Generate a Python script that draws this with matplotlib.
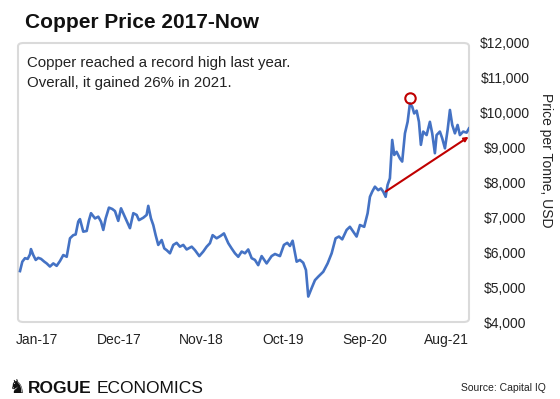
import matplotlib
matplotlib.use('Agg')
import matplotlib.pyplot as plt
from matplotlib.patches import FancyBboxPatch

# months since Jan-2017 and copper price in USD/tonne
months = [-2.28, -1.97, -1.61, -1.25, -0.94, -0.81, -0.50, -0.17, 0.17, 0.54,
          0.98, 1.30, 1.74, 2.19, 2.64, 3.09, 3.53, 3.99, 4.43, 4.87,
          5.19, 5.54, 5.77, 6.21, 6.67, 6.98, 7.25, 7.79, 8.23, 8.59,
          8.90, 9.22, 9.66, 10.11, 10.47, 10.91, 11.28, 11.72, 12.48, 12.93,
          13.38, 13.69, 14.27, 14.72, 14.94, 15.30, 15.61, 15.93, 16.28, 16.74,
          17.09, 17.41, 17.85, 18.30, 18.75, 19.19, 19.64, 20.09, 20.77, 21.21,
          21.79, 22.32, 22.78, 23.22, 23.58, 24.12, 24.66, 25.10, 25.68, 26.13,
          26.58, 27.02, 27.48, 27.92, 28.36, 28.82, 29.26, 29.70, 30.16, 30.83,
          31.50, 31.95, 32.62, 33.15, 33.60, 33.96, 34.32, 34.86, 35.30, 35.74,
          36.11, 36.42, 36.87, 37.32, 37.76, 38.43, 39.02, 39.56, 40.09, 40.54,
          40.98, 41.57, 42.01, 42.46, 42.91, 43.36, 43.93, 44.39, 44.70, 45.01,
          45.37, 45.81, 46.17, 46.48, 46.81, 47.07, 47.38, 47.69, 47.96, 48.28,
          48.72, 49.03, 49.40, 49.76, 50.07, 50.38, 50.64, 50.97, 51.28, 51.54,
          51.85, 52.31, 52.75, 53.06, 53.42, 53.65, 54.09, 54.40, 54.77, 55.13,
          55.44, 55.75, 56.11, 56.47, 56.78, 57.22, 57.68, 57.99]
prices = [5460, 5730, 5830, 5810, 5940, 6090, 5920, 5780, 5840, 5810,
          5730, 5680, 5590, 5680, 5610, 5750, 5920, 5870, 6400, 6490,
          6510, 6880, 6950, 6590, 6610, 6920, 7120, 6970, 7020, 6880,
          6640, 6970, 7280, 7240, 7180, 6900, 7260, 7050, 6690, 7120,
          7070, 6920, 6990, 7070, 7330, 6970, 6780, 6490, 6210, 6350,
          6110, 6060, 5970, 6210, 6270, 6160, 6210, 6080, 6160, 6060,
          5890, 6020, 6160, 6260, 6490, 6400, 6470, 6540, 6260, 6110,
          5970, 5870, 6020, 5970, 6080, 5830, 5780, 5630, 5890, 5680,
          5890, 5950, 5890, 6210, 6270, 6180, 6330, 5730, 5780, 5700,
          5490, 4730, 4970, 5200, 5300, 5440, 5680, 5970, 6400, 6450,
          6370, 6640, 6730, 6590, 6450, 6780, 6730, 7120, 7590, 7740,
          7880, 7780, 7830, 7740, 7590, 7930, 8120, 9220, 8790, 8880,
          8690, 8600, 9410, 9740, 10270, 10170, 9980, 10060, 9740, 9080,
          9460, 9360, 9740, 9410, 8840, 9360, 9460, 9270, 8980, 9510,
          10080, 9650, 9410, 9650, 9360, 9460, 9430, 9550]

tick_months = [0, 11, 22, 33, 44, 55]
tick_labels = ['Jan-17', 'Dec-17', 'Nov-18', 'Oct-19', 'Sep-20', 'Aug-21']
price_ticks = [4000, 5000, 6000, 7000, 8000, 9000, 10000, 11000, 12000]

trend_months = [46.81, 57.95]
trend_prices = [7740, 9310]
peak_month = [50.07]
peak_price = [10410]

BLUE = '#4472C4'
RED = '#C00000'
W, H = 560, 399

fig = plt.figure(figsize=(W / 100, H / 100), dpi=100)
ax = fig.add_axes([18 / W, 77 / H, 451 / W, 279 / H])

ax.plot(months, prices, color=BLUE, lw=1.9, solid_joinstyle='round', zorder=3)
ax.annotate('', xy=(trend_months[1], trend_prices[1]),
            xytext=(trend_months[0], trend_prices[0]),
            arrowprops=dict(arrowstyle='-|>', color=RED, lw=1.5,
                            mutation_scale=6, shrinkA=0, shrinkB=0),
            zorder=4)
ax.plot(peak_month, peak_price, marker='o', ms=7.5, mfc='none', mec=RED,
        mew=1.5, ls='none', zorder=5)

ax.set_xlim(-2.55, 58.0)
ax.set_ylim(4000, 12000)
ax.set_xticks(tick_months)
ax.set_xticklabels(tick_labels, fontsize=10, family='Liberation Sans', color='#222222')
ax.yaxis.tick_right()
ax.set_yticks(price_ticks)
ax.set_yticklabels(['${:,}'.format(v) for v in price_ticks], fontsize=10,
                   family='Liberation Sans', color='#222222', ha='center')
ax.tick_params(axis='x', length=0, pad=8)
ax.tick_params(axis='y', length=0, pad=26)
for s in ax.spines.values():
    s.set_visible(False)

box = FancyBboxPatch((0, 0), 1, 1, boxstyle='round,pad=0,rounding_size=0.012',
                     transform=ax.transAxes, facecolor='none',
                     edgecolor='#DADADA', lw=1.5, clip_on=False, zorder=1)
ax.add_patch(box)

fig.text(546 / W, 1 - 160 / H, 'Price per Tonne, USD', rotation=270,
         ha='center', va='center', fontsize=10, family='Liberation Sans',
         color='#222222')

fig.text(25 / W, 1 - 28.5 / H, 'Copper Price 2017-Now', ha='left',
         va='baseline', fontsize=15, fontweight='bold',
         family='Liberation Sans', color='#111111')

fig.text(27 / W, 1 - 66.5 / H, 'Copper reached a record high last year.',
         ha='left', va='baseline', fontsize=10.8, family='Liberation Sans',
         color='#222222')
fig.text(27 / W, 1 - 87.5 / H, 'Overall, it gained 26% in 2021.',
         ha='left', va='baseline', fontsize=10.8, family='Liberation Sans',
         color='#222222')

fig.text(9 / W, 1 - 393 / H, '\u265e', ha='left', va='baseline',
         fontsize=13.5, family='DejaVu Sans', color='#111111')
fig.text(28 / W, 1 - 393 / H, 'ROGUE', ha='left', va='baseline',
         fontsize=12.5, fontweight='bold', family='Liberation Sans',
         color='#111111')
fig.text(97 / W, 1 - 393 / H, 'ECONOMICS', ha='left', va='baseline',
         fontsize=12.5, family='Liberation Sans', color='#111111')
fig.text(546 / W, 1 - 391 / H, 'Source: Capital IQ', ha='right',
         va='baseline', fontsize=7.5, family='Liberation Sans', color='#222222')

fig.savefig('out.png', dpi=100)
